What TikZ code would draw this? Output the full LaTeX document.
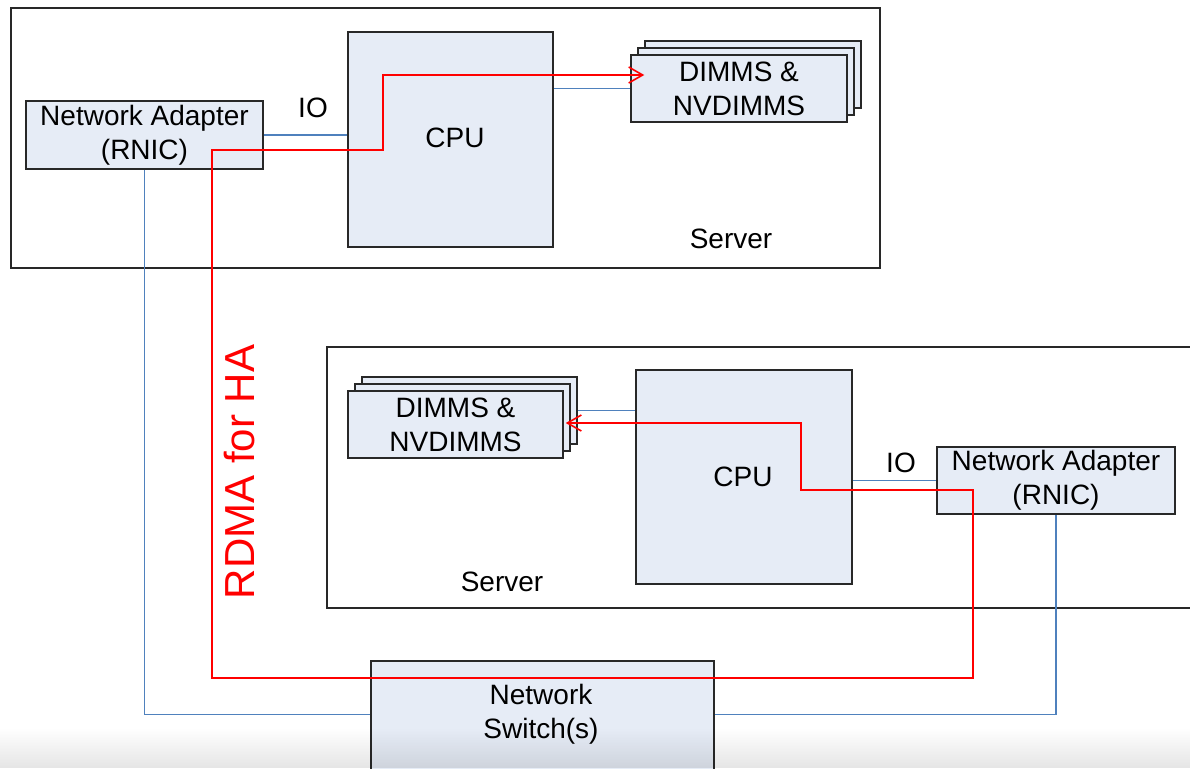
\documentclass[tikz,border=0pt]{standalone}
\usepackage{fontspec}
\setmainfont{Liberation Sans}
\usetikzlibrary{arrows.meta,calc,fadings}
\definecolor{boxfill}{RGB}{230,236,246}
\definecolor{linkblue}{RGB}{79,129,189}
\definecolor{frame}{RGB}{40,40,40}
\begin{document}
\begin{tikzpicture}[x=1pt,y=-1pt,
  lbl/.style={font=\fontsize{28}{34}\selectfont, align=center, inner sep=1pt},
  server/.style={draw=frame, line width=1.6pt, fill=white, inner sep=0pt},
  part/.style={draw=frame, line width=1.5pt, fill=boxfill, inner sep=0pt,
    font=\fontsize{28}{34}\selectfont, align=center},
  link/.style={draw=linkblue, line width=1.4pt},
  rdma/.style={draw=red, line width=1.6pt,
    arrows={Straight Barb[length=14pt,width=16pt]-Straight Barb[length=14pt,width=16pt]}},
]
\useasboundingbox (0,0) rectangle (1190,768);
\fill[white] (0,0) rectangle (1190,768);

% server enclosures
\node[server, minimum width=869pt, minimum height=260pt] (srv1) at (445.5,138) {};
\node[server, minimum width=868pt, minimum height=261pt] (srv2) at (761,477.5) {};

% upper server components
\node[part, minimum width=237pt, minimum height=68pt] (nic1) at (144.5,135)
  {Network Adapter\\(RNIC)};
\node[part, minimum width=205pt, minimum height=215pt] (cpu1) at (450.5,139.5) {};
\node[part, minimum width=216pt, minimum height=67pt] (dimm1c) at (753,74.5) {};
\node[part, minimum width=216pt, minimum height=67pt] (dimm1b) at (746,81.5) {};
\node[part, minimum width=216pt, minimum height=67pt] (dimm1) at (739,88.5)
  {DIMMS \&\\NVDIMMS};

% lower server components
\node[part, minimum width=215pt, minimum height=67pt] (dimm2c) at (469.5,410.5) {};
\node[part, minimum width=215pt, minimum height=67pt] (dimm2b) at (462.5,417.5) {};
\node[part, minimum width=215pt, minimum height=67pt] (dimm2) at (455.5,424.5)
  {DIMMS \&\\NVDIMMS};
\node[part, minimum width=216pt, minimum height=214pt] (cpu2) at (744,477) {};
\node[part, minimum width=238pt, minimum height=67pt] (nic2) at (1056,480.5)
  {Network Adapter\\(RNIC)};

% switch
\node[part, minimum width=343pt, minimum height=129pt] (sw) at (542.5,725.5) {};

% IO and network links
\draw[link] (nic1.east) -- (nic1.east -| cpu1.west);
\draw[link] (dimm1.west -| cpu1.east) -- (dimm1.west);
\draw[link] (nic1.south) |- ($(sw.north west)+(0,54)$);
\draw[link] (dimm2c.east) -- (dimm2c.east -| cpu2.west);
\draw[link] (nic2.west -| cpu2.east) -- (nic2.west);
\draw[link] ($(sw.north east)+(0,54)$) -| (nic2.south);

% RDMA replication path
\coordinate (r1) at (801,490);
\coordinate (r2) at (973,678);
\coordinate (r3) at (212,150);
\coordinate (r4) at (383,75);
\draw[rdma] ($(dimm2.east)+(2,-1.5)$) -| (r1) -| (r2) -| (r3) -| (r4)
  -- ($(dimm1.west)+(14,-13.5)$);

% labels
\node[lbl] (cpu1t) at (455,138) {CPU};
\node[lbl] (cpu2t) at (743,477) {CPU};
\node[lbl] (io1) at (313,108) {IO};
\node[lbl, fill=white] (io2) at (901,463) {IO};
\node[lbl] (srv1t) at (731,239) {Server};
\node[lbl] (srv2t) at (502,582) {Server};
\node[lbl] (swt) at (541,714) {Network\\Switch(s)};
\node[red, rotate=90, font=\fontsize{42}{42}\selectfont, inner sep=0pt]
  (rdmat) at (240,472) {RDMA for HA};

% soft shadow along the lower edge
\fill[black, opacity=0.10, path fading=north] (0,728) rectangle (1190,768);
\end{tikzpicture}
\end{document}
